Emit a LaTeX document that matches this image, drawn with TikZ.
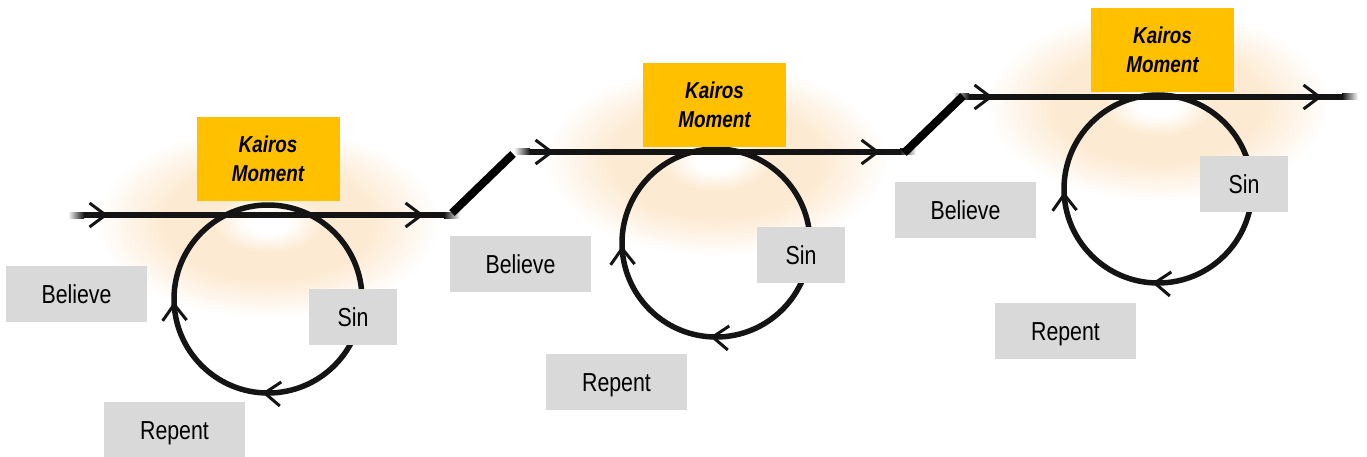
\documentclass[tikz,border=0pt]{standalone}
\usepackage{fontspec}
\setmainfont{Liberation Sans}[FakeStretch=0.82]
\usepackage{xcolor}
\usetikzlibrary{arrows.meta,decorations.markings,positioning}

\definecolor{kairosgold}{RGB}{255,192,0}
\definecolor{tagrey}{RGB}{217,217,217}
\definecolor{glow}{RGB}{253,234,210}
\definecolor{glowlight}{RGB}{254,244,232}
\definecolor{ink}{RGB}{20,20,20}

\pgfdeclareradialshading{kairosglow}{\pgfpoint{0bp}{0bp}}{color(0bp)=(white); color(3bp)=(white); color(8bp)=(glow); color(15bp)=(glow); color(20bp)=(glowlight); color(25bp)=(white); color(50bp)=(white)}

\tikzset{
   >={Straight Barb[length=16pt,width=24pt,line width=3pt]},
   road/.style={draw=ink, line width=6pt, postaction={decorate},
                decoration={markings, mark=at position 24pt with {\arrow{>}},
                                      mark=at position -20pt with {\arrow{>}}}},
   sinloop/.style={draw=ink, line width=5.5pt, postaction={decorate},
                decoration={markings, mark=at position 0.51 with {\arrow{>}},
                                      mark=at position 0.745 with {\arrow{>}}}},
   ramp/.style={draw=black, line width=8pt}
}

\begin{document}
\begin{tikzpicture}[x=1pt,y=-1pt]
\tikzstyle{kairos}=[fill=kairosgold, minimum width=143pt, minimum height=84pt, inner sep=0pt,
                    align=center, font=\fontsize{23}{29}\selectfont\bfseries\itshape]
\tikzstyle{tagbox}=[fill=tagrey, minimum width=141pt, minimum height=56pt, inner sep=0pt,
                    text height=19pt, text depth=0pt, font=\fontsize{26}{30}\selectfont]
\tikzstyle{sinbox}=[tagbox, minimum width=88pt]
\tikzstyle{fadeout}=[left color=ink, right color=white]
\tikzstyle{fadein}=[left color=white, right color=ink]

\useasboundingbox (0,0) rectangle (1367,457);

%% glow behind each moment
\foreach \gx/\gy in {268/222, 716/160, 1158/105}
    \shade[shading=kairosglow] (\gx,\gy) ellipse (172 and 96);

%% centres of the loops and ends of the roads
\coordinate (c1) at (268,299);
\coordinate (c2) at (716,243);
\coordinate (c3) at (1158,189);
\coordinate (in1) at (84,215);   \coordinate (out1) at (444,215);
\coordinate (in2) at (530,152);  \coordinate (out2) at (900,152);
\coordinate (in3) at (969,97);   \coordinate (out3) at (1342,97);
\coordinate (rise1 foot) at (452,213); \coordinate (rise1 top) at (513,154);
\coordinate (rise2 foot) at (904,153); \coordinate (rise2 top) at (963,96);

%% roads with their faded ends
\foreach \n in {1,2,3} {
    \draw[road] (in\n) -- (out\n);
    \shade[fadein] (in\n) ++(-16,-3) rectangle ++(16,6);
    \shade[fadeout] (out\n) ++(0,-3) rectangle ++(16,6);
}

%% loops
\foreach \n in {1,2,3}
    \draw[sinloop] (c\n) ++(0,-94) arc[start angle=-90, end angle=270, radius=94];

%% steps up to the next road
\draw[ramp] (rise1 foot) -- (rise1 top);
\draw[ramp] (rise2 foot) -- (rise2 top);

%% first moment
\node[kairos] (kairos1) at (268,159) {Kairos\\Moment};
\node[tagbox] (believe1) at (76.5,294) {Believe};
\node[sinbox] (sin1) at (353,316.5) {Sin};
\node[tagbox] (repent1) at (174.5,430) {Repent};

%% second moment
\node[kairos] (kairos2) at (714.5,105) {Kairos\\Moment};
\node[tagbox] (believe2) at (520.5,264) {Believe};
\node[sinbox] (sin2) at (801,255) {Sin};
\node[tagbox] (repent2) at (616.5,382) {Repent};

%% third moment
\node[kairos] (kairos3) at (1162.5,50) {Kairos\\Moment};
\node[tagbox] (believe3) at (965.5,210) {Believe};
\node[sinbox] (sin3) at (1244,184) {Sin};
\node[tagbox] (repent3) at (1065.5,330.5) {Repent};

\end{tikzpicture}
\end{document}
